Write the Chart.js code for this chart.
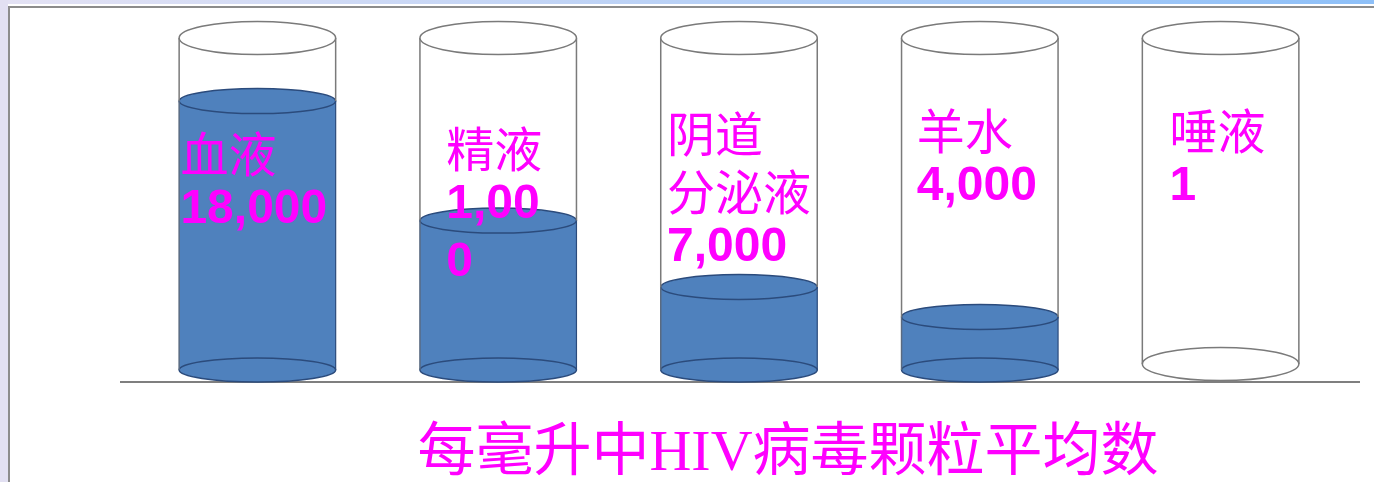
<!DOCTYPE html>
<html>
<head>
<meta charset="utf-8">
<script src="https://cdn.jsdelivr.net/npm/chart.js@4"></script>
<style>
  html, body { margin: 0; padding: 0; background: #fff; }
  #wrap { position: relative; width: 1374px; height: 482px; overflow: hidden; }
  .band-top { position: absolute; left: 0; top: 0; width: 1374px; height: 4px; background: linear-gradient(to right, #e4e2f4, #8ec0f8); }
  .band-left { position: absolute; left: 0; top: 0; width: 8px; height: 482px; background: #e2e0f2; }
  .rule-top { position: absolute; left: 8px; top: 6px; width: 1366px; height: 2px; background: #8c8c8c; }
  .rule-left { position: absolute; left: 8px; top: 6px; width: 2px; height: 476px; background: #8c8c8c; }
  canvas { position: absolute; left: 0; top: 0; }
</style>
</head>
<body>
<div id="wrap">
  <div class="band-top"></div>
  <div class="band-left"></div>
  <div class="rule-top"></div>
  <div class="rule-left"></div>
  <canvas id="tubeChart" width="1374" height="482"></canvas>
</div>
<script>
// Data
const fluids = ['血液', '精液', ['阴道', '分泌液'], '羊水', '唾液'];
const virusCounts = [18000, 1000, 7000, 4000, 1];
// how full each tube is drawn (% of tube height, as in the picture)
const fillLevels = [81, 45, 25, 16, 0];
const titleText = '每毫升中HIV病毒颗粒平均数';

// label placement inside each tube (px)
const labelDx = [-77, -52, -72, -63, -51];
const labelTop = [134, 129, 114, 111, 111];
const valueWrap = [160, 110, 160, 160, 160];

const BLUE = '#4f81bd';
const NAVY = '#2b4b7c';
const GLASS = '#7a7a7a';
const PINK = '#ff00ff';

function ellipse(ctx, x, y, rx, ry, fill, stroke) {
    ctx.beginPath();
    ctx.ellipse(x, y, rx, ry, 0, 0, Math.PI * 2);
    if (fill) { ctx.fillStyle = fill; ctx.fill(); }
    if (stroke) { ctx.strokeStyle = stroke; ctx.lineWidth = 1.5; ctx.stroke(); }
}

// break a string by characters so that it fits maxWidth
function wrapText(ctx, text, maxWidth) {
    const lines = [];
    let cur = '';
    for (const ch of text) {
        if (cur && ctx.measureText(cur + ch).width > maxWidth) {
            lines.push(cur);
            cur = ch;
        } else {
            cur += ch;
        }
    }
    if (cur) lines.push(cur);
    return lines;
}

const tubes = {
    id: 'tubes',
    beforeDatasetsDraw(chart) {
        const { ctx, chartArea: a } = chart;
        ctx.save();
        ctx.strokeStyle = '#7f7f7f';
        ctx.lineWidth = 2;
        ctx.beginPath();
        ctx.moveTo(a.left - 17, a.bottom + 12);
        ctx.lineTo(a.right + 19, a.bottom + 12);
        ctx.stroke();
        ctx.restore();
    },
    afterDatasetsDraw(chart) {
        const { ctx, chartArea: a } = chart;
        const meta = chart.getDatasetMeta(0);

        meta.data.forEach((bar, i) => {
            const x = bar.x;
            const rx = bar.width / 2;
            const filled = fillLevels[i] > 0;
            const bottom = filled ? bar.base : bar.base - 6;

            ctx.save();
            // liquid
            if (filled) {
                ctx.strokeStyle = NAVY;
                ctx.lineWidth = 1.2;
                ctx.beginPath();
                ctx.moveTo(x + rx, bar.y);
                ctx.lineTo(x + rx, bar.base);
                ctx.stroke();
                ellipse(ctx, x, bar.base, rx, 12, BLUE, NAVY);
                ellipse(ctx, x, bar.y, rx, 12.5, BLUE, NAVY);
            } else {
                ellipse(ctx, x, bottom, rx, 16.5, null, GLASS);
            }

            // glass
            ctx.strokeStyle = GLASS;
            ctx.lineWidth = 1.5;
            ctx.beginPath();
            ctx.moveTo(x - rx, a.top);
            ctx.lineTo(x - rx, filled ? bar.y : bottom);
            ctx.moveTo(x + rx, a.top);
            ctx.lineTo(x + rx, filled ? bar.y : bottom);
            ctx.stroke();
            if (filled) {
                ctx.strokeStyle = '#5a6a80';
                ctx.beginPath();
                ctx.moveTo(x - rx, bar.y);
                ctx.lineTo(x - rx, bar.base);
                ctx.stroke();
            }
            ellipse(ctx, x, a.top, rx, 16.5, '#fff', GLASS);

            // labels
            const tx = x + labelDx[i];
            let y = a.top + labelTop[i];
            ctx.fillStyle = PINK;
            ctx.textAlign = 'left';
            ctx.textBaseline = 'alphabetic';
            ctx.font = '48px "Noto Sans CJK SC", sans-serif';
            [].concat(chart.data.labels[i]).forEach((line, k) => {
                if (k) y += 58;
                ctx.fillText(line, tx, y);
            });
            ctx.font = 'bold 48px "Liberation Sans", Arial, sans-serif';
            const valueLines = wrapText(ctx, virusCounts[i].toLocaleString('en-US'), valueWrap[i]);
            y += 51;
            valueLines.forEach((line, k) => {
                if (k) y += 58;
                ctx.fillText(line, tx, y);
            });
            ctx.restore();
        });

        // caption under the tubes
        ctx.save();
        ctx.fillStyle = PINK;
        ctx.font = '58px "Liberation Serif", "Noto Sans CJK SC", serif';
        ctx.textAlign = 'center';
        ctx.textBaseline = 'alphabetic';
        ctx.fillText(titleText, (a.left + a.right) / 2 + 49, a.bottom + 100);
        ctx.restore();
    }
};

new Chart(document.getElementById('tubeChart'), {
    type: 'bar',
    data: {
        labels: fluids,
        datasets: [{
            data: fillLevels,
            backgroundColor: BLUE,
            borderWidth: 0,
            categoryPercentage: 1,
            barPercentage: 0.65
        }]
    },
    options: {
        responsive: false,
        animation: false,
        layout: { padding: { left: 137, right: 33, top: 38, bottom: 112 } },
        scales: {
            x: { display: false },
            y: { display: false, min: 0, max: 100 }
        },
        plugins: {
            legend: { display: false },
            tooltip: { enabled: false }
        }
    },
    plugins: [tubes]
});
</script>
</body>
</html>
